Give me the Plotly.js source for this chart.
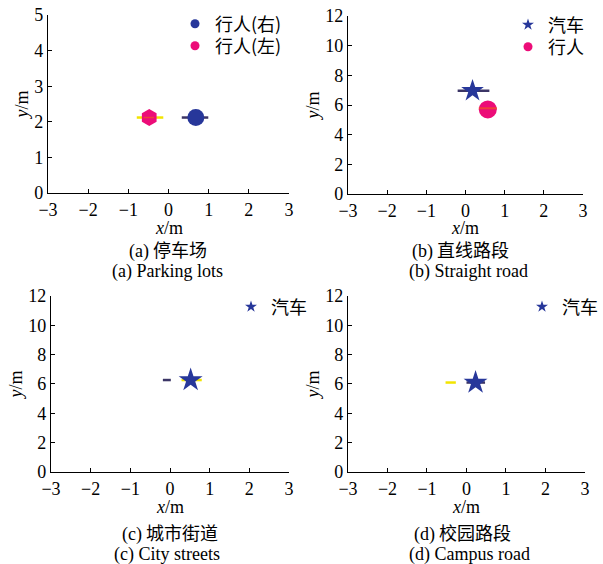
<!DOCTYPE html>
<html>
<head>
<meta charset="utf-8">
<script src="https://cdn.plot.ly/plotly-3.0.1.min.js"></script>
<style>
html,body{margin:0;padding:0;background:#fff;}
#chart{width:603px;height:564px;}
g[class$="tick"] text,text[class$="title"]{font-family:'Liberation Serif' !important;font-size:18px !important;fill:#000 !important;}
</style>
</head>
<body>
<div id="chart"></div>
<script>
// ---- data ----
const xTicks = [-3, -2, -1, 0, 1, 2, 3];
const yTicksA = [0, 1, 2, 3, 4, 5];
const yTicksB = [0, 2, 4, 6, 8, 10, 12];

// (a) parking lot
const aRightX = [0.68], aRightY = [2.12];
const aRightTrackX = [0.33, 0.99], aRightTrackY = [2.12, 2.12];
const aLeftX = [-0.48], aLeftY = [2.12];
const aLeftTrackX = [-0.79, -0.13], aLeftTrackY = [2.12, 2.12];
const aLeftInnerX = [-0.62, -0.36], aLeftInnerY = [2.12, 2.12];

// (b) straight road
const bCarX = [0.18], bCarY = [6.96];
const bCarTrackX = [-0.2, 0.61], bCarTrackY = [6.96, 6.96];
const bPedX = [0.57], bPedY = [5.7];
const bPedTrackX = [0.34, 0.80], bPedTrackY = [5.78, 5.78];

// (c) city streets
const cCarX = [0.52], cCarY = [6.27];
const cCarTrackX = [0.29, 0.80], cCarTrackY = [6.27, 6.27];
const cOtherTrackX = [-0.18, 0.02], cOtherTrackY = [6.27, 6.27];

// (d) campus road
const dCarX = [0.23], dCarY = [6.1];
const dCarTrackX = [0.0, 0.47], dCarTrackY = [6.1, 6.1];
const dOtherTrackX = [-0.53, -0.27], dOtherTrackY = [6.1, 6.1];

const legendA = ['行人(右)', '行人(左)'];
const legendB = ['汽车', '行人'];
const legendC = ['汽车'];
const captionTags = ['(a)', '(b)', '(c)', '(d)'];
const captionsCN = ['停车场', '直线路段', '城市街道', '校园路段'];
const captionsEN = ['Parking lots', 'Straight road', 'City streets', 'Campus road'];

// ---- styles ----
const BLUE = '#27379a', PINK = '#ec0c78', YELLOW = '#f2e400', DARK = '#3b3566', RED = '#f0403a';
const serif = 'Liberation Serif';
const cjk = 'Noto Sans CJK SC';

function line(x, y, color, w, xa, ya) {
  return {x, y, xaxis: xa, yaxis: ya, mode: 'lines', line: {color, width: w}, showlegend: false, hoverinfo: 'skip'};
}
function mark(x, y, symbol, size, color, xa, ya) {
  return {x, y, xaxis: xa, yaxis: ya, mode: 'markers', marker: {symbol, size, color, line: {width: 0}}, showlegend: false};
}
function leg(name, symbol, size, color, legend, xa, ya) {
  return {x: [null], y: [null], xaxis: xa, yaxis: ya, mode: 'markers', name, legend,
    marker: {symbol, size, color, line: {width: 0}}, showlegend: true};
}

const traces = [
  // (a)
  line(aLeftTrackX, aLeftTrackY, YELLOW, 2.5, 'x', 'y'),
  mark(aLeftX, aLeftY, 'hexagon', 17, PINK, 'x', 'y'),
  line(aLeftInnerX, aLeftInnerY, RED, 1.5, 'x', 'y'),
  line(aRightTrackX, aRightTrackY, DARK, 2.5, 'x', 'y'),
  mark(aRightX, aRightY, 'circle', 17, BLUE, 'x', 'y'),
  leg(legendA[0], 'circle', 9, BLUE, 'legend', 'x', 'y'),
  leg(legendA[1], 'circle', 9, PINK, 'legend2', 'x', 'y'),
  // (b)
  line(bCarTrackX, bCarTrackY, DARK, 2.5, 'x2', 'y2'),
  mark(bCarX, bCarY, 'star', 17, BLUE, 'x2', 'y2'),
  mark(bPedX, bPedY, 'circle', 18, PINK, 'x2', 'y2'),
  line(bPedTrackX, bPedTrackY, RED, 2, 'x2', 'y2'),
  leg(legendB[0], 'star', 9, BLUE, 'legend3', 'x2', 'y2'),
  leg(legendB[1], 'circle', 9, PINK, 'legend4', 'x2', 'y2'),
  // (c)
  line(cCarTrackX, cCarTrackY, YELLOW, 2.5, 'x3', 'y3'),
  line(cOtherTrackX, cOtherTrackY, DARK, 2.5, 'x3', 'y3'),
  mark(cCarX, cCarY, 'star', 18, BLUE, 'x3', 'y3'),
  leg(legendC[0], 'star', 9, BLUE, 'legend5', 'x3', 'y3'),
  // (d)
  line(dOtherTrackX, dOtherTrackY, YELLOW, 2.5, 'x4', 'y4'),
  line(dCarTrackX, dCarTrackY, DARK, 2.5, 'x4', 'y4'),
  mark(dCarX, dCarY, 'star', 18, BLUE, 'x4', 'y4'),
  leg(legendC[0], 'star', 9, BLUE, 'legend6', 'x4', 'y4')
];

const axFont = {family: serif, size: 18, color: '#000'};
function xaxis(domain, anchor) {
  return {domain, anchor, range: [-3, 3], tickmode: 'array', tickvals: xTicks,
    ticktext: xTicks.map(v => v < 0 ? '\u2212' + Math.abs(v) : String(v)),
    showline: true, linecolor: '#000', linewidth: 1.2, ticks: 'inside', ticklen: 4, tickcolor: '#000',
    showgrid: false, zeroline: false, tickfont: axFont, fixedrange: true};
}
function yaxis(domain, anchor, ticks, max) {
  return {domain, anchor, range: [0, max], tickmode: 'array', tickvals: ticks,
    showline: true, linecolor: '#000', linewidth: 1.2, ticks: 'inside', ticklen: 4, tickcolor: '#000',
    showgrid: false, zeroline: false, tickfont: axFont,
    title: {text: '<i>y</i>/m', font: axFont, standoff: 0}, fixedrange: true};
}

const H = 564;
const annotations = [];
const xIds = ['x', 'x2', 'x3', 'x4'];
const xTitleY = [228, 228, 507, 507];
const capCNx = [168, 460, 170, 462], capCNy = [249, 249, 532, 532];
const capENx = [167, 468, 167, 469], capENy = [271, 271, 554, 554];
for (let i = 0; i < 4; i++) {
  annotations.push({xref: xIds[i] + ' domain', yref: 'paper', x: 0.5, y: 1 - xTitleY[i] / H,
    text: '<i>x</i>/m', showarrow: false, font: axFont, xanchor: 'center', yanchor: 'middle'});
  annotations.push({xref: 'paper', yref: 'paper', x: capCNx[i] / 603, y: 1 - capCNy[i] / H,
    text: '<span style="font-family:' + serif + '">' + captionTags[i] + '</span> ' + captionsCN[i],
    showarrow: false, font: {family: cjk, size: 18, color: '#000'}, xanchor: 'center', yanchor: 'middle'});
  annotations.push({xref: 'paper', yref: 'paper', x: capENx[i] / 603, y: 1 - capENy[i] / H,
    text: captionTags[i] + ' ' + captionsEN[i],
    showarrow: false, font: {family: serif, size: 18, color: '#000'}, xanchor: 'center', yanchor: 'middle'});
}

function legendCfg(xpx, ypx, anchor) {
  return {x: xpx / 603, y: 1 - ypx / H, xanchor: anchor || 'left', yanchor: 'middle', bgcolor: 'rgba(0,0,0,0)',
    font: {family: cjk, size: 18, color: '#000'}, tracegroupgap: 0, itemwidth: 30, itemsizing: 'trace'};
}

const layout = {
  width: 603, height: 564, margin: {l: 0, r: 0, t: 0, b: 0},
  font: {family: serif, size: 18, color: '#000'},
  paper_bgcolor: '#fff', plot_bgcolor: '#fff', showlegend: true,
  xaxis: xaxis([0.0796, 0.4793], 'y'),
  yaxis: yaxis([0.6578, 0.9734], 'x', yTicksA, 5),
  xaxis2: xaxis([0.5771, 0.9668], 'y2'),
  yaxis2: yaxis([0.656, 0.9716], 'x2', yTicksB, 12),
  xaxis3: xaxis([0.0846, 0.4793], 'y3'),
  yaxis3: yaxis([0.1631, 0.4752], 'x3', yTicksB, 12),
  xaxis4: xaxis([0.5771, 0.9701], 'y4'),
  yaxis4: yaxis([0.1631, 0.4752], 'x4', yTicksB, 12),
  legend: legendCfg(175, 24),
  legend2: legendCfg(175, 46),
  legend3: legendCfg(508, 25),
  legend4: legendCfg(508, 47),
  legend5: legendCfg(231, 307),
  legend6: legendCfg(603, 307, 'right'),
  annotations
};

Plotly.newPlot('chart', traces, layout, {displayModeBar: false, staticPlot: true});
</script>
</body>
</html>
